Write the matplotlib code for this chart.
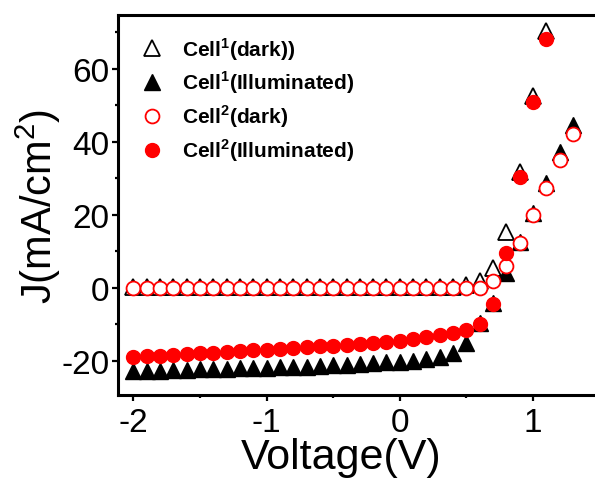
import numpy as np
from matplotlib import pyplot as plt
from matplotlib.ticker import MultipleLocator

plt.rcParams['font.family'] = 'Liberation Sans'
plt.rcParams['mathtext.fontset'] = 'custom'
plt.rcParams['mathtext.rm'] = 'Liberation Sans'
plt.rcParams['mathtext.bf'] = 'Liberation Sans:bold'
plt.rcParams['axes.unicode_minus'] = False

# voltage sweep, 0.1 V steps
voltage = np.round(np.arange(-2.0, 1.31, 0.1), 2)

# current density (mA/cm2) for each cell
cell1_dark = [0.3] * 25 + [0.8, 1.8, 5.5, 15.3, 31.8, 52.6, 70.4]
cell1_light = [-22.8, -22.7, -22.6, -22.5, -22.4, -22.3, -22.2, -22.1, -22.0, -21.9,
               -21.8, -21.7, -21.6, -21.5, -21.3, -21.2, -21.0, -20.8, -20.6, -20.4,
               -20.2, -19.9, -19.5, -18.9, -17.9, -15.2, -9.5, -4.1, 4.2, 12.6,
               20.5, 28.8, 37.3, 44.7]
cell2_dark = [0.0] * 27 + [2.0, 6.0, 12.4, 20.0, 27.4, 35.0, 42.0]
cell2_light = [-18.9, -18.7, -18.5, -18.3, -18.1, -17.9, -17.7, -17.5, -17.3, -17.1,
               -16.9, -16.7, -16.5, -16.2, -16.0, -15.8, -15.6, -15.3, -15.0, -14.7,
               -14.4, -14.0, -13.5, -12.9, -12.2, -11.5, -9.9, -4.4, 9.6, 30.4,
               51.0, 68.0]

fig = plt.figure(figsize=(5.95, 4.85), dpi=100)
ax = fig.add_axes([118 / 595, 89 / 485, 483 / 595, 380 / 485])

n1 = len(cell1_dark)
n2 = len(cell2_light)
ax.plot(voltage[:n1], cell1_dark, ls='none', marker='^', ms=11, mfc='white', mec='black',
        mew=1.3, label='Cell$^{\\mathbf{1}}$(dark))')
ax.plot(voltage, cell1_light, ls='none', marker='^', ms=11, mfc='black', mec='black',
        mew=1.0, label='Cell$^{\\mathbf{1}}$(Illuminated)')
ax.plot(voltage, cell2_dark, ls='none', marker='o', ms=10, mfc='white', mec='red',
        mew=1.3, label='Cell$^{\\mathbf{2}}$(dark)')
ax.plot(voltage[:n2], cell2_light, ls='none', marker='o', ms=10, mfc='red', mec='red',
        mew=1.0, label='Cell$^{\\mathbf{2}}$(Illuminated)')

ax.set_xlim(-2.115, 1.51)
ax.set_ylim(-29.3, 74.7)
ax.xaxis.set_major_locator(MultipleLocator(1))
ax.xaxis.set_minor_locator(MultipleLocator(0.5))
ax.yaxis.set_major_locator(MultipleLocator(20))
ax.yaxis.set_minor_locator(MultipleLocator(10))
ax.tick_params(which='both', direction='out', top=False, right=False, labelsize=24, width=1.6)
ax.tick_params(which='major', length=4)
ax.tick_params(which='minor', length=2.5)
ax.tick_params(axis='x', which='major', pad=5)
ax.tick_params(axis='y', which='major', pad=2)
for side in ['left', 'bottom', 'top']:
    ax.spines[side].set_linewidth(2.2)
ax.spines['right'].set_visible(False)

ax.set_xlabel('Voltage(V)', fontsize=31)
ax.xaxis.set_label_coords((341 - 118) / 483, -0.11)
ax.set_ylabel('J(mA/cm$^{2}$)', fontsize=30)
ax.yaxis.set_label_coords(-0.113, 0.5)

ax.legend(loc='upper left', bbox_to_anchor=(142 / 595, 1 - 36 / 485), bbox_transform=fig.transFigure,
          frameon=False, prop={'weight': 'bold', 'size': 15}, handlelength=1.0,
          handletextpad=0.9, labelspacing=0.35, borderpad=0, borderaxespad=0)

plt.savefig('out.png', dpi=100)
